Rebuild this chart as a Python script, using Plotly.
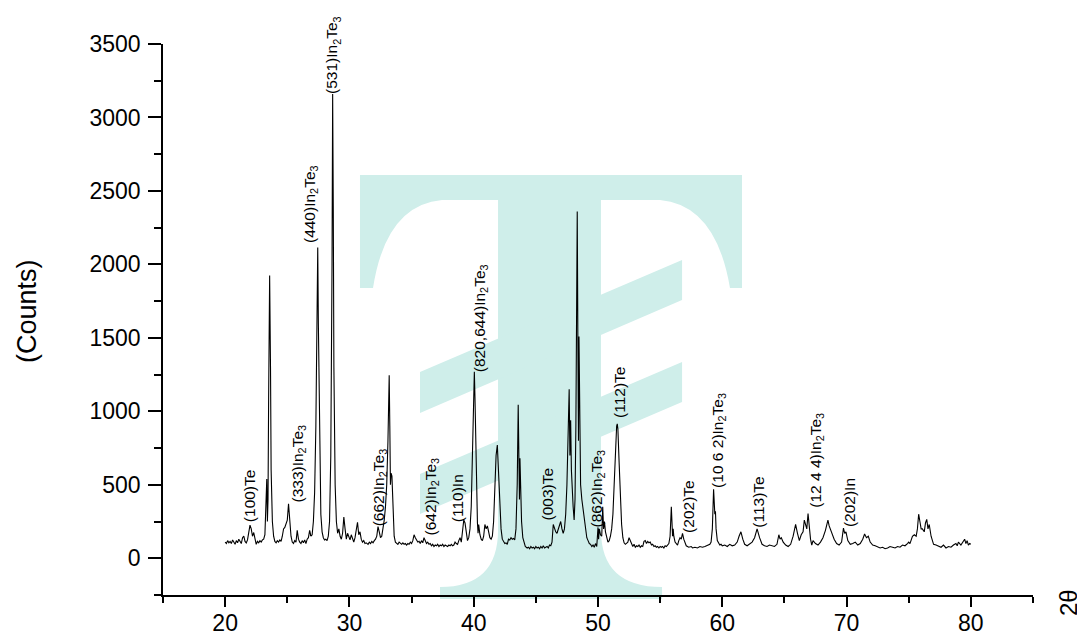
import plotly.graph_objects as go

# ---------------- data ----------------
two_theta = [
    20.0, 20.1, 20.2, 20.3, 20.4, 20.5, 20.6, 20.7, 20.8, 20.9, 21.0, 21.1, 21.2, 21.3, 21.4, 21.5, 21.6, 21.7, 21.8, 21.9,
    22.0, 22.1, 22.2, 22.3, 22.4, 22.5, 22.6, 22.7, 22.8, 22.9, 23.0, 23.1, 23.2, 23.3, 23.35, 23.4, 23.45, 23.5, 23.58, 23.65,
    23.7, 23.8, 23.9, 24.0, 24.1, 24.2, 24.3, 24.4, 24.5, 24.6, 24.7, 24.8, 24.9, 25.0, 25.1, 25.2, 25.3, 25.4, 25.5, 25.6,
    25.7, 25.8, 25.9, 26.0, 26.1, 26.2, 26.3, 26.4, 26.5, 26.6, 26.7, 26.8, 26.9, 27.0, 27.1, 27.2, 27.3, 27.4, 27.45, 27.5,
    27.6, 27.7, 27.8, 27.9, 28.0, 28.1, 28.2, 28.3, 28.4, 28.5, 28.6, 28.65, 28.7, 28.75, 28.85, 28.95, 29.05, 29.15, 29.25, 29.35,
    29.45, 29.55, 29.65, 29.75, 29.85, 29.95, 30.05, 30.15, 30.25, 30.35, 30.45, 30.55, 30.65, 30.75, 30.85, 30.95, 31.05, 31.15, 31.25, 31.35,
    31.5, 31.6, 31.7, 31.8, 31.9, 32.0, 32.1, 32.2, 32.3, 32.4, 32.5, 32.6, 32.7, 32.8, 32.9, 33.0, 33.1, 33.2, 33.25, 33.3,
    33.35, 33.42, 33.5, 33.6, 33.7, 33.8, 33.9, 34.0, 34.1, 34.2, 34.3, 34.4, 34.5, 34.6, 34.7, 34.8, 34.9, 35.0, 35.1, 35.2,
    35.3, 35.4, 35.5, 35.6, 35.7, 35.8, 35.9, 36.0, 36.1, 36.2, 36.3, 36.4, 36.5, 36.6, 36.7, 36.8, 36.9, 37.0, 37.1, 37.2,
    37.3, 37.4, 37.5, 37.6, 37.7, 37.8, 37.9, 38.0, 38.1, 38.2, 38.3, 38.4, 38.5, 38.6, 38.7, 38.8, 38.9, 39.0, 39.1, 39.2,
    39.3, 39.4, 39.5, 39.6, 39.7, 39.8, 39.9, 40.0, 40.05, 40.1, 40.2, 40.3, 40.35, 40.4, 40.5, 40.6, 40.7, 40.8, 40.9, 41.0,
    41.1, 41.2, 41.3, 41.4, 41.5, 41.6, 41.7, 41.8, 41.9, 42.0, 42.1, 42.2, 42.3, 42.4, 42.5, 42.6, 42.7, 42.8, 42.9, 43.0,
    43.1, 43.2, 43.3, 43.4, 43.5, 43.58, 43.63, 43.68, 43.72, 43.78, 43.85, 43.95, 44.05, 44.15, 44.3, 44.4, 44.5, 44.6, 44.7, 44.8,
    44.9, 45.0, 45.1, 45.2, 45.3, 45.4, 45.5, 45.6, 45.7, 45.8, 45.9, 46.0, 46.1, 46.2, 46.3, 46.4, 46.5, 46.6, 46.7, 46.8,
    46.9, 47.0, 47.1, 47.2, 47.3, 47.4, 47.5, 47.6, 47.68, 47.74, 47.8, 47.86, 47.92, 48.0, 48.08, 48.15, 48.22, 48.28, 48.33, 48.38,
    48.43, 48.47, 48.52, 48.6, 48.7, 48.8, 48.9, 49.0, 49.1, 49.2, 49.3, 49.4, 49.5, 49.6, 49.7, 49.8, 49.9, 50.0, 50.05, 50.1,
    50.2, 50.3, 50.38, 50.45, 50.52, 50.6, 50.7, 50.8, 50.9, 51.0, 51.1, 51.2, 51.3, 51.4, 51.5, 51.55, 51.6, 51.7, 51.8, 51.9,
    52.0, 52.1, 52.2, 52.3, 52.4, 52.5, 52.6, 52.7, 52.8, 52.9, 53.0, 53.1, 53.2, 53.3, 53.4, 53.5, 53.6, 53.7, 53.8, 53.9,
    54.0, 54.1, 54.2, 54.3, 54.4, 54.5, 54.6, 54.7, 54.8, 54.9, 55.0, 55.1, 55.2, 55.3, 55.4, 55.5, 55.6, 55.7, 55.8, 55.9,
    55.95, 56.0, 56.05, 56.1, 56.2, 56.3, 56.4, 56.5, 56.6, 56.7, 56.8, 56.9, 57.0, 57.1, 57.2, 57.3, 57.5, 57.6, 57.8, 58.0,
    58.2, 58.4, 58.6, 58.8, 59.0, 59.1, 59.2, 59.3, 59.35, 59.4, 59.45, 59.5, 59.6, 59.7, 59.8, 59.9, 60.0, 60.2, 60.4, 60.6,
    60.8, 61.0, 61.2, 61.35, 61.5, 61.65, 61.8, 62.0, 62.2, 62.4, 62.6, 62.8, 63.0, 63.2, 63.4, 63.6, 63.8, 64.0, 64.2, 64.4,
    64.55, 64.65, 64.75, 64.9, 65.1, 65.3, 65.5, 65.7, 65.9, 66.05, 66.2, 66.35, 66.5, 66.6, 66.7, 66.8, 66.9, 67.0, 67.1, 67.2,
    67.3, 67.5, 67.7, 67.9, 68.1, 68.3, 68.5, 68.6, 68.8, 69.0, 69.2, 69.4, 69.6, 69.75, 69.85, 69.95, 70.1, 70.3, 70.5, 70.7,
    70.9, 71.1, 71.3, 71.45, 71.6, 71.75, 71.9, 72.1, 72.3, 72.5, 72.7, 72.9, 73.1, 73.3, 73.5, 73.7, 73.9, 74.1, 74.3, 74.5,
    74.7, 74.9, 75.0, 75.1, 75.3, 75.45, 75.6, 75.7, 75.8, 75.9, 76.0, 76.1, 76.25, 76.35, 76.45, 76.55, 76.65, 76.8, 76.9, 77.0,
    77.2, 77.4, 77.6, 77.8, 78.0, 78.2, 78.4, 78.6, 78.8, 78.9, 79.0, 79.2, 79.4, 79.5, 79.6, 79.7, 79.8, 79.9, 80.0,
]
counts = [
    110, 100, 120, 105, 115, 100, 125, 110, 95, 120, 105, 130, 110, 100, 140, 150, 115, 105, 125, 170,
    225, 200, 150, 175, 120, 95, 115, 105, 120, 110, 125, 130, 160, 400, 540, 250, 400, 1100, 1925, 1300,
    600, 250, 150, 115, 105, 120, 110, 125, 115, 150, 200, 210, 230, 260, 370, 240, 150, 110, 100, 120,
    110, 190, 130, 110, 100, 120, 105, 125, 100, 130, 140, 190, 150, 160, 250, 450, 900, 1700, 2115, 1600,
    700, 300, 180, 140, 125, 130, 120, 150, 250, 700, 2000, 3160, 2400, 1300, 500, 250, 170, 200, 150, 130,
    170, 280, 200, 130, 170, 140, 125, 160, 130, 110, 140, 200, 245, 160, 180, 130, 110, 120, 100, 105,
    95, 110, 100, 115, 105, 120, 130, 150, 215, 180, 140, 150, 200, 260, 350, 500, 800, 1245, 900, 500,
    580, 560, 300, 150, 110, 105, 95, 110, 100, 95, 105, 95, 100, 90, 100, 95, 110, 100, 120, 160,
    140, 120, 110, 115, 100, 120, 105, 140, 115, 100, 110, 95, 100, 85, 95, 80, 90, 85, 95, 80,
    90, 85, 95, 80, 90, 85, 80, 90, 85, 95, 85, 90, 110, 100, 95, 120, 140, 110, 180, 260,
    240, 160, 120, 140, 200, 350, 700, 1100, 1270, 1100, 600, 240, 170, 230, 160, 130, 120, 150, 230, 200,
    220, 180, 140, 130, 150, 250, 450, 700, 770, 600, 350, 200, 130, 110, 100, 105, 95, 130, 125, 140,
    130, 135, 125, 200, 500, 1045, 700, 400, 680, 500, 250, 140, 100, 80, 70, 75, 65, 80, 70, 75,
    65, 80, 70, 75, 65, 80, 70, 85, 70, 75, 80, 70, 90, 85, 110, 230, 200, 180, 170, 200,
    220, 250, 200, 170, 200, 300, 500, 800, 1150, 700, 940, 600, 450, 350, 260, 400, 900, 1800, 2360, 1500,
    800, 1510, 900, 500, 400, 330, 250, 200, 140, 120, 100, 95, 80, 90, 75, 100, 80, 210, 130, 200,
    160, 150, 350, 200, 250, 180, 130, 110, 120, 150, 200, 300, 500, 750, 900, 915, 880, 650, 400, 230,
    140, 105, 95, 100, 110, 140, 120, 90, 80, 95, 75, 85, 80, 90, 75, 85, 80, 115, 120, 100,
    115, 105, 110, 90, 95, 80, 85, 75, 80, 70, 80, 75, 80, 70, 85, 80, 90, 100, 150, 350,
    250, 150, 200, 150, 110, 100, 90, 120, 140, 130, 170, 130, 100, 85, 80, 75, 80, 70, 75, 70,
    80, 75, 80, 85, 95, 110, 200, 470, 380, 300, 320, 200, 120, 100, 90, 95, 85, 90, 80, 95,
    85, 90, 110, 150, 180, 130, 95, 85, 95, 110, 140, 200, 140, 95, 85, 80, 90, 85, 80, 95,
    160, 130, 140, 110, 90, 80, 95, 150, 230, 170, 120, 160, 180, 260, 220, 200, 305, 200, 130, 90,
    120, 100, 90, 110, 140, 190, 260, 220, 170, 130, 100, 90, 110, 205, 170, 180, 120, 95, 100, 110,
    90, 100, 130, 165, 140, 150, 110, 90, 85, 80, 70, 75, 65, 70, 80, 75, 70, 80, 75, 90,
    85, 100, 110, 100, 150, 160, 150, 200, 300, 250, 200, 200, 180, 240, 265, 200, 230, 150, 120, 95,
    90, 80, 75, 90, 70, 80, 75, 90, 100, 85, 110, 90, 115, 130, 100, 120, 90, 100, 95,
]

x_tick_values = [20, 30, 40, 50, 60, 70, 80]
y_tick_values = [0, 500, 1000, 1500, 2000, 2500, 3000, 3500]

label_text = [
    "(100)Te", "(333)In<sub>2</sub>Te<sub>3</sub>", "(440)In<sub>2</sub>Te<sub>3</sub>",
    "(531)In<sub>2</sub>Te<sub>3</sub>", "(662)In<sub>2</sub>Te<sub>3</sub>", "(642)In<sub>2</sub>Te<sub>3</sub>",
    "(110)In", "(820,644)In<sub>2</sub>Te<sub>3</sub>", "(003)Te", "(862)In<sub>2</sub>Te<sub>3</sub>",
    "(112)Te", "(202)Te", "(10 6 2)In<sub>2</sub>Te<sub>3</sub>", "(113)Te",
    "(12 4 4)In<sub>2</sub>Te<sub>3</sub>", "(202)In",
]
label_x = [21.95, 25.88, 26.81, 28.69, 32.39, 36.57, 38.65, 40.50, 45.96, 49.94, 51.71, 57.33, 59.74, 62.95, 67.61, 70.22]
label_y = [279, 415, 2178, 3195, 252, 190, 279, 1300, 293, 245, 987, 204, 510, 245, 381, 245]

# ---------------- layout geometry ----------------
# the page body adds an 8px margin, so the figure is drawn 8px smaller
OFF = 8
W, H = 1085 - OFF, 635 - OFF
ML, MT = 163 - OFF, 44 - OFF
MR = W - (1033 - OFF)
MB = H - (595 - OFF)
PW, PH = W - ML - MR, H - MT - MB


def px_x(px):
    return (px - OFF - ML) / PW


def px_y(py):
    return (H - MB - (py - OFF)) / PH


def pp(px, py):
    return f"{px_x(px):.4f},{px_y(py):.4f}"


teal = "#cfeeea"
t_path = (
    f"M {pp(360,175)} L {pp(742,175)} L {pp(742,288)} L {pp(730,288)} "
    f"Q {pp(716,205)} {pp(660,200)} L {pp(601,200)} L {pp(601,530)} "
    f"Q {pp(601,587)} {pp(662,587)} L {pp(662,599)} L {pp(440,599)} L {pp(440,587)} "
    f"Q {pp(498,587)} {pp(498,530)} L {pp(498,200)} L {pp(442,200)} "
    f"Q {pp(386,205)} {pp(373,288)} L {pp(360,288)} Z"
)
band1 = f"M {pp(420,372)} L {pp(682,260)} L {pp(682,300)} L {pp(420,413)} Z"
band2 = f"M {pp(420,474)} L {pp(682,362)} L {pp(682,402)} L {pp(420,514)} Z"

shapes = [
    dict(type="path", path=p, xref="paper", yref="paper", fillcolor=teal,
         line=dict(width=0), layer="below")
    for p in (t_path, band1, band2)
]

fig = go.Figure()
fig.add_trace(go.Scatter(x=two_theta, y=counts, mode="lines",
                         line=dict(color="black", width=1.1), showlegend=False))

annotations = []
for t, x, y in zip(label_text, label_x, label_y):
    annotations.append(dict(x=x, y=y, xref="x", yref="y", text=t, textangle=-90,
                            showarrow=False, xanchor="center", yanchor="bottom",
                            yshift=-6, borderpad=0,
                            font=dict(family="Arial", size=15.5, color="black")))

annotations.append(dict(x=px_x(27), y=px_y(311), xref="paper", yref="paper",
                        text="(Counts)", textangle=-90, showarrow=False,
                        xanchor="center", yanchor="middle",
                        font=dict(family="Arial", size=27, color="black")))
annotations.append(dict(x=px_x(1068), y=px_y(603), xref="paper", yref="paper",
                        text="2θ", textangle=-90, showarrow=False,
                        xanchor="center", yanchor="middle",
                        font=dict(family="Arial", size=24, color="black")))

fig.update_layout(
    width=W, height=H, autosize=False,
    margin=dict(l=ML, r=MR, t=MT, b=MB, pad=0, autoexpand=False),
    paper_bgcolor="white", plot_bgcolor="white",
    shapes=shapes, annotations=annotations,
    font=dict(family="Arial", color="black"),
    xaxis=dict(range=[15, 85], tickvals=x_tick_values, ticks="outside", ticklen=10,
               tickwidth=1.5, tickcolor="black", showline=True, linecolor="black",
               linewidth=1.5, showgrid=False, zeroline=False, automargin=False,
               ticklabelstandoff=-3,
               tickfont=dict(family="Arial", size=23, color="black"),
               minor=dict(tick0=15, dtick=5, ticks="outside", ticklen=6, tickwidth=1.5,
                          tickcolor="black", showgrid=False)),
    yaxis=dict(range=[-250, 3500], tickvals=y_tick_values, ticks="outside", ticklen=13,
               tickwidth=1.5, tickcolor="black", showline=True, linecolor="black",
               linewidth=1.5, showgrid=False, zeroline=False, automargin=False,
               ticklabelstandoff=3,
               tickfont=dict(family="Arial", size=23, color="black"),
               minor=dict(tick0=-250, dtick=250, ticks="outside", ticklen=7, tickwidth=1.5,
                          tickcolor="black", showgrid=False)),
)

fig.write_html("out.html")
